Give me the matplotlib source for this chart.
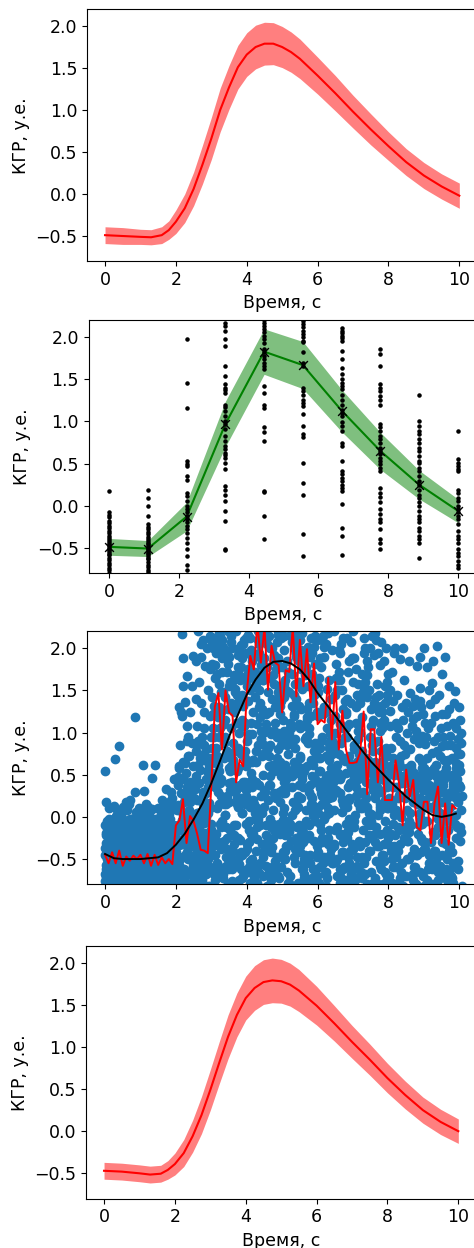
import numpy as np
import matplotlib
matplotlib.use("Agg")
import matplotlib.pyplot as plt

plt.rcParams["font.size"] = 12.5

XLABEL = "Время, с"
YLABEL = "КГР, у.е."

# ---------- panel 1 / 4: smooth mean with band ----------
t_a = [0, 0.5, 1.0, 1.3, 1.6, 1.8, 2.0, 2.25, 2.5, 2.75, 3.0, 3.25, 3.5, 3.75, 4.0,
       4.25, 4.5, 4.75, 5.0, 5.25, 5.5, 6.0, 6.5, 7.0, 7.5, 8.0, 8.5, 9.0, 9.5, 10.0]
mean_a = [-0.49, -0.50, -0.51, -0.515, -0.49, -0.43, -0.33, -0.17, 0.06, 0.35, 0.66,
          1.0, 1.27, 1.51, 1.66, 1.75, 1.79, 1.79, 1.75, 1.69, 1.61, 1.41, 1.2, 0.98,
          0.77, 0.57, 0.38, 0.22, 0.09, -0.02]
half_a = [0.10, 0.10, 0.09, 0.09, 0.10, 0.11, 0.14, 0.17, 0.20, 0.23, 0.25, 0.26, 0.26,
          0.26, 0.26, 0.26, 0.255, 0.25, 0.245, 0.24, 0.235, 0.22, 0.21, 0.195, 0.185,
          0.17, 0.16, 0.155, 0.15, 0.15]

mean_d = [-0.47, -0.48, -0.50, -0.515, -0.505, -0.46, -0.39, -0.26, -0.06, 0.19, 0.49,
          0.81, 1.12, 1.38, 1.58, 1.70, 1.77, 1.79, 1.78, 1.74, 1.67, 1.49, 1.28, 1.06,
          0.85, 0.63, 0.43, 0.25, 0.11, 0.0]
half_d = [0.10, 0.10, 0.10, 0.10, 0.10, 0.11, 0.13, 0.16, 0.19, 0.22, 0.24, 0.25, 0.26,
          0.26, 0.26, 0.265, 0.265, 0.265, 0.26, 0.255, 0.25, 0.23, 0.21, 0.195, 0.185,
          0.175, 0.165, 0.155, 0.15, 0.145]

# ---------- panel 2: grouped measurements ----------
t_b = [0.0, 1.111, 2.222, 3.333, 4.444, 5.556, 6.667, 7.778, 8.889, 10.0]
mean_b = [-0.49, -0.51, -0.13, 0.97, 1.83, 1.67, 1.13, 0.65, 0.25, -0.06]
half_b = [0.10, 0.095, 0.17, 0.27, 0.27, 0.28, 0.25, 0.22, 0.17, 0.14]
obs_b = [
    [0.17, -0.08, -0.11, -0.14, -0.18, -0.21, -0.24, -0.27, -0.3, -0.33, -0.36, -0.38,
     -0.41, -0.43, -0.45, -0.47, -0.49, -0.51, -0.53, -0.55, -0.57, -0.59, -0.62, -0.65,
     -0.68, -0.71, -0.74, -0.77, -0.8],
    [0.19, 0.09, 0.0, -0.12, -0.22, -0.25, -0.28, -0.31, -0.34, -0.37, -0.4, -0.42,
     -0.44, -0.46, -0.48, -0.5, -0.52, -0.54, -0.56, -0.58, -0.6, -0.62, -0.64, -0.67,
     -0.7, -0.73, -0.76, -0.79],
    [1.98, 1.46, 1.16, 0.53, 0.5, 0.47, 0.35, 0.31, 0.15, 0.11, 0.06, 0.0, -0.04, -0.08,
     -0.12, -0.16, -0.2, -0.24, -0.28, -0.32, -0.38, -0.44, -0.52, -0.6, -0.7, -0.76],
    [2.17, 2.13, 2.08, 1.98, 1.9, 1.66, 1.54, 1.44, 1.4, 1.37, 1.34, 1.2, 1.17, 1.12,
     1.07, 1.0, 0.97, 0.91, 0.83, 0.77, 0.71, 0.67, 0.63, 0.6, 0.57, 0.51, 0.43, 0.23,
     0.19, 0.13, 0.06, -0.06, -0.18, -0.52, -0.53],
    [2.2, 2.17, 2.13, 2.1, 2.06, 2.02, 1.98, 1.93, 1.86, 1.82, 1.78, 1.74, 1.7, 1.66,
     1.62, 1.42, 1.34, 1.2, 1.16, 0.93, 0.87, 0.77, 0.17, 0.16, -0.12, -0.4],
    [2.19, 2.16, 2.12, 2.08, 2.04, 2.0, 1.96, 1.94, 1.82, 1.7, 1.66, 1.4, 1.36, 1.32,
     1.26, 1.22, 1.18, 1.09, 0.95, 0.85, 0.81, 0.51, 0.27, 0.13, -0.34, -0.6],
    [2.11, 2.08, 2.05, 2.02, 1.99, 1.96, 1.84, 1.74, 1.64, 1.56, 1.5, 1.46, 1.42, 1.38,
     1.32, 1.26, 1.2, 1.14, 1.1, 1.06, 0.99, 0.95, 0.89, 0.75, 0.71, 0.53, 0.41, 0.37,
     0.33, 0.29, 0.25, 0.21, 0.17, 0.02, -0.26, -0.36, -0.59],
    [1.86, 1.8, 1.66, 1.44, 1.4, 1.36, 1.3, 1.26, 1.2, 0.97, 0.93, 0.89, 0.83, 0.79, 0.75,
     0.69, 0.65, 0.61, 0.57, 0.53, 0.49, 0.45, 0.41, 0.21, 0.15, 0.1, 0.04, -0.04, -0.1,
     -0.16, -0.2, -0.28, -0.4, -0.44, -0.52],
    [1.32, 1.01, 0.95, 0.89, 0.85, 0.79, 0.75, 0.69, 0.65, 0.59, 0.53, 0.51, 0.45, 0.41,
     0.35, 0.29, 0.25, 0.19, 0.13, 0.09, 0.04, 0.0, -0.06, -0.12, -0.16, -0.2, -0.26,
     -0.3, -0.36, -0.4, -0.44, -0.62],
    [0.89, 0.55, 0.51, 0.47, 0.43, 0.41, 0.19, 0.15, 0.09, 0.06, 0.0, -0.04, -0.08,
     -0.12, -0.16, -0.22, -0.3, -0.36, -0.4, -0.44, -0.52, -0.56, -0.6, -0.66, -0.7,
     -0.74],
]

# ---------- panel 3: raw samples, noisy trace, smooth fit ----------
# raw samples before the rise (t < 2); two value sets share the same times
base_t = [
    0.02, 0.23, 0.41, 0.63, 0.84, 1.03, 1.22, 1.45, 1.62, 1.83,
    0.09, 0.28, 0.49, 0.66, 0.88, 1.09, 1.27, 1.49, 1.68, 1.91,
    0.05, 0.19, 0.37, 0.58, 0.79, 0.97, 1.18, 1.38, 1.57, 1.79,
    0.13, 0.32, 0.52, 0.71, 0.93, 1.13, 1.33, 1.52, 1.73, 1.95,
    0.00, 0.16, 0.35, 0.55, 0.74, 0.95, 1.15, 1.35, 1.55, 1.76,
    0.11, 0.30, 0.47, 0.68, 0.90, 1.06, 1.29, 1.47, 1.69, 1.87,
    0.07, 0.25, 0.44, 0.61, 0.82, 1.01, 1.20, 1.41, 1.60, 1.81,
    0.15, 0.34, 0.54, 0.73, 0.95, 1.14, 1.36, 1.54, 1.75, 1.97,
    0.04, 0.21, 0.39, 0.60, 0.77, 0.99, 1.17, 1.39, 1.58, 1.78,
    0.17, 0.36, 0.57, 0.76, 0.97, 1.16, 1.37, 1.56, 1.77, 1.99,
    0.01, 0.20, 0.42, 0.62, 0.81, 1.02, 1.21, 1.42, 1.63, 1.84,
    0.10, 0.27, 0.46, 0.65, 0.86, 1.07, 1.25, 1.46, 1.66, 1.86,
    0.06, 0.24, 0.43, 0.64, 0.83, 1.04, 1.24, 1.43, 1.64, 1.85,
    0.14, 0.33, 0.51, 0.72, 0.91, 1.11, 1.31, 1.51, 1.71, 1.93,
    0.03, 0.22, 0.40, 0.59, 0.80, 1.00, 1.19, 1.40, 1.59, 1.80,
    0.12, 0.31, 0.50, 0.69, 0.89, 1.10, 1.30, 1.50, 1.70, 1.90,
    0.08, 0.26, 0.45, 0.67, 0.85, 1.05, 1.26, 1.44, 1.65, 1.88,
    0.16, 0.35, 0.53, 0.74, 0.94, 1.12, 1.34, 1.53, 1.74, 1.94,
    0.00, 0.18, 0.38, 0.56, 0.78, 0.96, 1.16, 1.36, 1.56, 1.77,
    0.12, 0.29, 0.48, 0.70, 0.87, 1.08, 1.28, 1.48, 1.67, 1.89,
    0.05, 0.24, 0.44, 0.62, 0.83, 1.03, 1.23, 1.42, 1.61, 1.82,
    0.18, 0.37, 0.55, 0.75, 0.96, 1.15, 1.35, 1.55, 1.76, 1.98,
]
base_v = [
    -0.31, -0.72, 0.05, -0.48, -0.15, -0.83, -0.56, -0.02, -0.39, -0.67,
    -0.6, -0.09, -0.44, -0.8, -0.25, 0.1, -0.52, -0.7, -0.18, -0.35,
    -0.05, -0.63, -0.28, -0.87, -0.41, -0.12, -0.75, -0.33, 0.02, -0.55,
    -0.78, -0.22, -0.5, -0.03, -0.66, -0.37, -0.84, -0.14, -0.58, -0.27,
    -0.45, -0.85, -0.11, -0.61, -0.3, -0.74, 0.07, -0.47, -0.2, -0.81,
    -0.17, -0.54, -0.76, -0.34, 0.0, -0.64, -0.23, -0.86, -0.42, -0.08,
    -0.69, -0.38, -0.01, -0.82, -0.53, -0.19, -0.62, -0.29, -0.77, 0.12,
    -0.26, -0.79, -0.46, -0.1, -0.71, -0.4, -0.88, -0.06, -0.51, -0.32,
    -0.57, -0.13, -0.68, -0.36, -0.82, -0.24, 0.04, -0.59, -0.43, -0.73,
    -0.04, -0.49, -0.21, -0.77, -0.12, -0.65, -0.36, -0.85, -0.16, -0.55,
    -0.83, -0.28, -0.6, 0.08, -0.45, -0.73, -0.07, -0.5, -0.3, -0.66,
    -0.14, -0.7, -0.37, -0.56, -0.87, -0.2, -0.42, -0.03, -0.79, -0.24,
    -0.5, -0.06, -0.81, -0.27, -0.64, -0.11, -0.55, -0.76, 0.06, -0.39,
    -0.72, -0.33, -0.16, -0.87, -0.47, -0.02, -0.68, -0.23, -0.58, -0.1,
    -0.22, -0.61, -0.84, -0.41, -0.09, -0.53, -0.29, -0.75, -0.18, 0.03,
    -0.63, 0.01, -0.34, -0.15, -0.8, -0.45, -0.69, -0.26, -0.52, -0.86,
    -0.08, -0.44, -0.74, -0.31, -0.57, -0.17, -0.85, -0.38, -0.04, -0.62,
    -0.46, -0.88, -0.13, -0.67, -0.25, -0.78, -0.32, 0.09, -0.6, -0.19,
    -0.76, -0.21, -0.51, -0.05, -0.7, -0.35, -0.12, -0.82, -0.48, -0.28,
    -0.35, -0.65, -0.01, -0.54, -0.83, -0.14, -0.59, -0.43, -0.71, 0.15,
    -0.1, -0.52, -0.29, -0.79, -0.4, -0.66, -0.02, -0.23, -0.87, -0.47,
    -0.59, -0.17, -0.84, -0.36, -0.07, -0.49, -0.74, -0.31, -0.13, 0.11,
]
base_v2 = [
    -0.62, -0.18, -0.8, -0.35, -0.52, -0.08, -0.7, -0.27, -0.45, -0.86,
    -0.22, -0.5, -0.04, -0.66, -0.38, -0.84, -0.14, -0.58, -0.3, -0.74,
    -0.76, -0.33, -0.6, -0.12, -0.85, -0.46, -0.26, -0.68, -0.41, -0.05,
    -0.4, -0.72, -0.2, -0.54, -0.07, -0.63, -0.32, -0.8, -0.16, -0.48,
    -0.1, -0.57, -0.83, -0.24, -0.67, -0.36, -0.52, -0.02, -0.78, -0.3,
    -0.55, -0.06, -0.42, -0.78, -0.2, -0.87, -0.6, -0.38, -0.11, -0.7,
    -0.28, -0.82, -0.5, -0.16, -0.74, -0.06, -0.44, -0.56, -0.34, -0.9,
    -0.66, -0.4, -0.12, -0.88, -0.32, -0.58, -0.72, -0.2, -0.82, -0.44,
    -0.19, -0.69, -0.37, -0.52, -0.03, -0.79, -0.14, -0.48, -0.62, -0.08,
    -0.84, -0.26, -0.61, -0.09, -0.46, -0.32, -0.75, -0.55, -0.29, -0.68,
    -0.37, -0.12, -0.77, -0.62, -0.2, -0.44, -0.86, -0.15, -0.57, -0.03,
    -0.6, -0.48, -0.25, -0.08, -0.7, -0.56, -0.1, -0.66, -0.34, -0.8,
    -0.13, -0.78, -0.54, -0.4, -0.86, -0.28, -0.63, -0.35, -0.72, -0.47,
    -0.45, -0.24, -0.9, -0.58, -0.15, -0.74, -0.38, -0.04, -0.27, -0.65,
    -0.71, -0.42, -0.07, -0.28, -0.66, -0.13, -0.8, -0.51, -0.6, -0.22,
    -0.03, -0.64, -0.47, -0.72, -0.38, -0.55, -0.2, -0.84, -0.1, -0.36,
    -0.5, -0.3, -0.68, -0.1, -0.84, -0.26, -0.53, -0.18, -0.69, -0.77,
    -0.25, -0.56, -0.32, -0.83, -0.06, -0.62, -0.45, -0.7, -0.22, -0.4,
    -0.68, -0.09, -0.78, -0.43, -0.3, -0.87, -0.17, -0.58, -0.05, -0.52,
    -0.15, -0.82, -0.55, -0.23, -0.62, -0.04, -0.35, -0.76, -0.48, -0.3,
    -0.58, -0.37, -0.14, -0.69, -0.23, -0.81, -0.43, -0.06, -0.64, -0.2,
    -0.32, -0.73, -0.46, -0.02, -0.77, -0.38, -0.25, -0.52, -0.83, -0.6,
]
base_out = [
    (0.0, 0.55), (0.03, 0.18), (0.26, 0.13), (0.29, 0.69), (0.4, 0.84), (0.59, 0.18),
    (0.71, 0.2), (0.86, 0.3), (0.86, 1.19), (0.87, 0.06), (1.06, 0.62), (1.42, 0.62),
    (1.32, 0.46), (1.09, 0.31), (1.32, 0.09), (1.72, 0.33), (1.86, 0.29), (1.95, 0.45),
    (1.6, 0.2), (1.8, 0.18), (0.5, 0.12), (1.15, 0.15), (0.12, 0.1), (0.35, 0.08),
    (0.62, 0.12), (0.68, 0.15), (0.95, 0.1), (1.2, 0.12), (1.25, 0.05), (1.5, 0.1),
    (1.68, 0.16), (1.9, 0.22), (0.45, 0.05), (1.0, 0.04), (1.78, 0.08), (1.98, 0.12),
]

# raw samples, rising part (2 <= t < 3)
rise_t = [
    2.01, 2.12, 2.21, 2.33, 2.42, 2.51, 2.62, 2.71, 2.83, 2.92,
    2.05, 2.16, 2.26, 2.37, 2.47, 2.56, 2.66, 2.77, 2.87, 2.97,
    2.03, 2.14, 2.24, 2.35, 2.44, 2.54, 2.64, 2.74, 2.85, 2.95,
    2.08, 2.18, 2.29, 2.39, 2.49, 2.59, 2.69, 2.79, 2.89, 2.99,
    2.00, 2.10, 2.20, 2.31, 2.40, 2.50, 2.60, 2.70, 2.80, 2.90,
    2.06, 2.17, 2.27, 2.36, 2.46, 2.57, 2.67, 2.76, 2.86, 2.96,
    2.02, 2.13, 2.23, 2.34, 2.45, 2.53, 2.63, 2.73, 2.84, 2.94,
    2.09, 2.19, 2.28, 2.38, 2.48, 2.58, 2.68, 2.78, 2.88, 2.98,
]
rise_v = [
    -0.42, 0.12, -0.71, -0.18, 0.25, -0.55, -0.05, -0.83, -0.3, 0.05,
    -0.1, -0.64, 0.2, -0.36, -0.8, -0.02, -0.48, 0.15, -0.67, -0.22,
    0.08, -0.27, -0.85, -0.5, 0.0, -0.74, -0.13, -0.4, 0.28, -0.6,
    -0.78, -0.04, -0.33, 0.18, -0.58, -0.2, -0.88, 0.1, -0.45, -0.15,
    -0.25, -0.52, 0.02, -0.69, -0.12, 0.22, -0.38, -0.75, -0.07, -0.82,
    0.14, -0.8, -0.46, -0.08, -0.63, -0.3, 0.06, -0.56, -0.19, -0.39,
    -0.6, -0.16, 0.26, -0.86, -0.35, -0.09, -0.7, -0.24, -0.53, 0.16,
    -0.33, -0.72, -0.2, 0.03, -0.77, -0.44, -0.27, -0.65, 0.11, -0.87,
]
rise_v2 = [
    -0.5, -0.12, 0.65, -0.8, 0.35, -0.28, 0.9, -0.6, 0.15, -0.4,
    0.45, -0.7, -0.2, 0.08, -0.55, 0.78, -0.35, -0.05, 0.55, -0.82,
    -0.3, 0.28, -0.62, 0.95, -0.15, -0.45, 0.4, -0.75, 0.0, 0.7,
    0.12, -0.48, 0.52, -0.25, -0.85, 0.2, -0.65, 0.85, -0.38, -0.08,
    -0.72, 0.6, -0.02, -0.42, 0.3, -0.58, 0.05, -0.18, 0.75, -0.5,
    0.38, -0.32, -0.78, 0.72, -0.1, 0.48, -0.52, 0.25, -0.68, 0.1,
    -0.15, -0.6, 0.18, -0.36, 0.88, -0.8, 0.62, -0.46, -0.22, 0.42,
    0.58, -0.05, -0.44, 0.32, -0.66, -0.25, 0.02, 0.68, -0.56, -0.3,
]
rise_up = [
    (2.16, 2.17), (2.21, 1.89), (2.49, 1.91), (2.3, 1.67), (2.21, 1.55), (2.26, 1.36),
    (2.16, 1.2), (2.4, 1.24), (2.3, 1.08), (2.59, 1.08), (2.3, 0.9), (2.63, 0.86),
    (2.26, 0.64), (2.49, 0.6), (2.68, 0.56), (2.21, 0.45), (2.4, 0.41), (2.6, 0.42),
    (2.3, 0.35), (2.54, 0.33), (2.77, 0.3), (2.77, 2.1), (2.96, 2.15), (2.82, 1.79),
    (2.05, 0.47), (2.1, 1.3), (2.15, 1.25), (2.45, 1.55), (2.12, 0.85), (2.35, 0.72),
    (2.65, 1.6), (2.72, 1.35), (2.8, 1.05), (2.85, 0.8), (2.9, 1.5), (2.93, 0.62),
    (2.7, 1.9), (2.88, 2.0), (2.97, 1.2), (2.75, 0.95), (2.62, 2.2), (2.95, 1.75),
    (2.84, 0.45), (2.58, 1.4), (2.67, 0.7), (2.78, 1.25), (2.99, 0.95), (2.9, 0.35),
    (2.56, 1.85), (2.7, 2.05),
]

# raw samples around the peak (3 <= t < 6)
peak_t = [
    3.02, 3.31, 3.62, 3.93, 4.20, 4.51, 4.83, 5.10, 5.42, 5.71,
    3.15, 3.44, 3.75, 4.05, 4.36, 4.64, 4.95, 5.26, 5.55, 5.86,
    3.08, 3.38, 3.67, 3.98, 4.27, 4.57, 4.88, 5.17, 5.48, 5.79,
    3.22, 3.52, 3.81, 4.12, 4.41, 4.72, 5.01, 5.33, 5.62, 5.93,
    3.00, 3.28, 3.59, 3.88, 4.18, 4.47, 4.78, 5.07, 5.38, 5.67,
    3.18, 3.48, 3.77, 4.08, 4.38, 4.68, 4.98, 5.28, 5.58, 5.88,
    3.11, 3.41, 3.71, 4.01, 4.31, 4.61, 4.91, 5.21, 5.51, 5.81,
    3.26, 3.55, 3.86, 4.15, 4.45, 4.76, 5.05, 5.36, 5.65, 5.96,
    3.05, 3.34, 3.64, 3.95, 4.24, 4.54, 4.85, 5.14, 5.45, 5.74,
    3.20, 3.50, 3.79, 4.10, 4.40, 4.70, 4.99, 5.30, 5.60, 5.90,
    3.13, 3.43, 3.73, 4.03, 4.33, 4.63, 4.93, 5.23, 5.53, 5.83,
    3.28, 3.57, 3.88, 4.17, 4.48, 4.78, 5.08, 5.39, 5.68, 5.98,
    3.04, 3.35, 3.65, 3.96, 4.25, 4.56, 4.86, 5.15, 5.46, 5.76,
    3.17, 3.46, 3.76, 4.06, 4.37, 4.66, 4.96, 5.27, 5.57, 5.87,
    3.09, 3.39, 3.69, 3.99, 4.29, 4.59, 4.89, 5.19, 5.49, 5.78,
    3.23, 3.53, 3.83, 4.13, 4.43, 4.73, 5.03, 5.34, 5.63, 5.94,
    3.01, 3.30, 3.60, 3.90, 4.21, 4.50, 4.80, 5.11, 5.40, 5.70,
    3.19, 3.49, 3.78, 4.09, 4.39, 4.69, 4.97, 5.29, 5.59, 5.89,
    3.12, 3.42, 3.72, 4.02, 4.32, 4.62, 4.92, 5.22, 5.52, 5.82,
    3.27, 3.56, 3.87, 4.16, 4.47, 4.77, 5.06, 5.37, 5.66, 5.97,
    3.06, 3.36, 3.66, 3.97, 4.26, 4.55, 4.87, 5.16, 5.47, 5.77,
    3.21, 3.51, 3.80, 4.11, 4.42, 4.71, 5.02, 5.32, 5.61, 5.92,
    3.14, 3.45, 3.74, 4.04, 4.34, 4.65, 4.94, 5.24, 5.54, 5.84,
    3.29, 3.58, 3.89, 4.19, 4.49, 4.79, 5.09, 5.40, 5.69, 5.99,
    3.03, 3.33, 3.63, 3.94, 4.23, 4.53, 4.84, 5.13, 5.44, 5.73,
    3.16, 3.47, 3.77, 4.07, 4.35, 4.67, 4.97, 5.25, 5.56, 5.85,
    3.10, 3.40, 3.70, 4.00, 4.30, 4.60, 4.90, 5.20, 5.50, 5.80,
    3.24, 3.54, 3.84, 4.14, 4.44, 4.74, 5.04, 5.35, 5.64, 5.95,
    3.07, 3.37, 3.68, 3.97, 4.28, 4.58, 4.87, 5.18, 5.47, 5.77,
    3.25, 3.55, 3.85, 4.14, 4.46, 4.75, 5.05, 5.33, 5.64, 5.91,
]
peak_v = [
    1.42, -0.35, 0.88, 2.1, -0.71, 0.3, 1.75, -0.12, 0.61, 1.18,
    -0.55, 1.95, 0.12, -0.83, 1.3, 0.72, -0.2, 2.22, 0.45, 1.6,
    0.95, -0.6, 1.52, 0.2, -0.4, 2.05, 1.0, -0.78, 1.85, 0.38,
    2.18, 0.55, -0.27, 1.12, 1.88, -0.66, 0.05, 1.45, -0.5, 0.8,
    -0.15, 1.25, 2.0, -0.45, 0.68, 1.62, -0.85, 0.28, 2.15, -0.05,
    0.62, -0.8, 0.35, 1.7, -0.1, 0.98, 2.12, 0.48, -0.62, 1.35,
    1.8, 0.15, -0.52, 0.9, 2.2, -0.3, 1.4, -0.7, 1.05, 0.25,
    -0.38, 2.08, 1.15, -0.18, 0.5, 1.92, 0.1, 1.58, -0.87, 0.75,
    1.05, -0.68, 1.68, 0.42, -0.02, 1.22, -0.48, 0.85, 1.98, -0.25,
    0.3, 1.55, -0.75, 2.12, 0.92, -0.36, 1.78, 0.18, 0.58, 2.02,
    -0.85, 0.78, 0.22, 1.38, -0.58, 2.15, 0.65, -0.08, 1.28, -0.72,
    1.98, -0.22, 1.88, -0.64, 0.32, 1.02, -0.4, 1.9, 0.08, 1.5,
    0.45, 1.1, -0.1, 0.7, 1.62, -0.82, 2.08, 0.55, -0.32, 0.98,
    -0.62, 2.2, 0.58, -0.05, 1.18, 0.38, -0.6, 1.32, 2.18, 0.02,
    1.65, 0.02, 1.3, 1.95, -0.26, 0.82, 1.48, -0.15, 0.7, -0.45,
    0.15, -0.45, 2.04, 0.52, -0.84, 1.68, 0.28, 2.0, -0.55, 1.82,
    -0.3, 1.72, 0.68, -0.7, 1.9, 0.12, 1.12, -0.35, 1.4, 0.6,
    2.05, 0.4, -0.56, 1.5, 0.25, -0.12, 0.92, 1.7, 0.35, -0.8,
    0.82, -0.12, 1.45, -0.38, 2.1, 0.6, -0.72, 1.05, -0.2, 2.12,
    -0.7, 1.35, 0.05, 0.98, -0.48, 1.85, 0.42, -0.55, 0.95, 1.25,
    1.22, 0.7, -0.82, 0.32, 1.58, -0.22, 2.16, 0.75, 1.6, -0.1,
    0.55, 1.9, 1.1, -0.58, 0.05, 1.4, -0.04, 1.22, -0.68, 0.45,
    -0.2, 0.25, 1.78, 2.16, -0.66, 0.48, 1.32, -0.85, 0.22, 1.7,
    1.88, -0.76, 0.42, 1.25, 0.85, -0.52, 0.62, 1.95, 1.15, -0.35,
    -0.45, 1.48, -0.32, 0.15, 1.72, 1.1, -0.15, 0.35, 1.88, 0.88,
    0.72, -0.5, 2.0, -0.15, 0.38, 2.02, 0.85, -0.28, 0.5, 1.95,
    2.12, 0.95, 0.32, 1.62, -0.78, 0.2, 1.55, 1.0, -0.42, 0.15,
    -0.08, 1.6, -0.62, 0.65, 1.28, -0.7, 1.98, 0.08, 1.75, -0.62,
    1.32, -0.28, 0.78, -0.88, 0.1, 1.78, 0.58, 1.48, -0.1, 1.05,
    0.4, 2.15, -0.42, 1.85, 1.0, 0.55, -0.5, 2.2, 0.92, -0.28,
]
peak_v2 = [
    0.52, 1.95, -0.4, 1.08, -0.78, 2.18, 0.22, 1.5, -0.12, 0.9,
    1.7, -0.25, 0.82, -0.6, 2.05, 0.38, 1.22, -0.82, 1.85, 0.08,
    -0.68, 1.15, 0.3, 2.12, 0.65, -0.35, 1.88, -0.05, 1.32, -0.55,
    0.95, -0.15, 1.62, -0.88, 1.02, 2.0, -0.42, 0.58, -0.72, 2.15,
    2.1, 0.45, -0.62, 1.45, -0.2, 0.75, 1.58, -0.5, 0.18, 1.78,
    -0.3, 1.82, 1.0, 0.12, 1.35, -0.75, 0.48, 2.08, -0.18, 0.62,
    0.35, -0.58, 2.2, -0.32, 0.85, 1.65, -0.08, 1.12, 0.72, -0.85,
    1.48, 0.7, 0.05, 1.9, -0.7, 0.28, 2.15, -0.38, 1.68, 0.42,
    -0.82, 2.02, -0.22, 0.78, 1.42, -0.1, 0.95, -0.65, 0.25, 1.55,
    1.18, 0.18, 1.38, -0.52, 1.8, -0.6, 0.32, 2.18, -0.28, 0.78,
    0.65, -0.38, 0.55, 1.75, -0.02, 1.25, -0.85, 0.88, 1.98, 0.15,
    -0.12, 1.6, -0.72, 0.2, 2.12, 0.55, 1.62, -0.25, 1.08, -0.48,
    2.0, 0.88, 1.25, -0.42, 0.42, -0.3, 0.7, 1.85, -0.78, 1.35,
    0.1, -0.8, 1.92, 0.98, -0.55, 2.0, -0.18, 0.35, 1.52, -0.62,
    -0.45, 1.42, -0.1, 0.6, 1.1, -0.68, 2.2, 0.95, -0.35, 1.9,
    1.58, 0.32, 0.75, -0.2, 1.7, 0.08, -0.45, 1.2, 0.55, -0.05,
    0.82, 2.1, -0.52, 1.32, 0.15, 1.88, -0.62, 0.45, 2.05, -0.75,
    -0.58, 0.58, 1.68, -0.78, 0.92, -0.42, 1.38, 0.02, -0.3, 1.45,
    1.95, -0.48, 0.15, 1.55, -0.65, 1.02, 0.3, -0.12, 1.75, 0.68,
    0.25, 1.05, -0.88, 0.45, 2.18, -0.15, 1.58, 0.82, -0.55, 2.1,
    -0.35, 0.15, 1.48, -0.08, 0.78, 2.08, -0.7, 1.72, 0.38, -0.22,
    1.3, -0.62, 0.38, 1.98, -0.32, 0.62, 1.15, -0.48, 1.92, 0.88,
    0.72, 1.72, -0.25, -0.65, 1.5, -0.02, 0.18, 2.15, -0.82, 0.48,
    -0.05, 0.42, 2.05, 0.68, -0.4, 1.3, -0.22, 0.52, 1.28, -0.7,
    1.82, -0.72, 0.62, 1.12, 0.05, -0.58, 1.82, -0.35, 0.12, 2.02,
    0.48, 1.28, -0.48, -0.3, 1.95, 0.85, -0.1, 1.05, -0.62, 0.22,
    -0.75, 0.02, 1.12, 1.68, -0.12, 1.48, 0.58, -0.78, 2.1, 1.2,
    1.05, -0.42, 1.78, 0.35, 0.72, -0.25, 1.02, 0.92, -0.08, 1.62,
    -0.2, 1.9, -0.58, 0.25, -0.82, 1.65, 0.8, -0.18, 1.1, 0.3,
    2.15, 0.6, 0.22, -0.5, 1.62, -0.08, 1.42, 0.65, -0.45, 1.52,
]

# raw samples, decay, lower part (t >= 6, v < 0.6)
tail_low_t = [
    6.02, 6.43, 6.85, 7.25, 7.66, 8.07, 8.48, 8.90, 9.30, 9.71,
    6.20, 6.62, 7.03, 7.44, 7.85, 8.26, 8.66, 9.08, 9.49, 9.90,
    6.11, 6.52, 6.93, 7.34, 7.75, 8.16, 8.57, 8.98, 9.39, 9.80,
    6.30, 6.71, 7.12, 7.53, 7.94, 8.35, 8.76, 9.17, 9.58, 9.99,
    6.06, 6.47, 6.89, 7.29, 7.70, 8.11, 8.53, 8.94, 9.35, 9.76,
    6.25, 6.66, 7.07, 7.48, 7.89, 8.30, 8.71, 9.12, 9.53, 9.94,
    6.15, 6.56, 6.97, 7.38, 7.79, 8.20, 8.61, 9.02, 9.43, 9.85,
    6.35, 6.76, 7.17, 7.58, 7.99, 8.40, 8.81, 9.22, 9.63, 10.04,
    6.00, 6.40, 6.82, 7.22, 7.63, 8.04, 8.45, 8.86, 9.27, 9.68,
    6.23, 6.64, 7.05, 7.46, 7.87, 8.28, 8.69, 9.10, 9.51, 9.92,
    6.09, 6.50, 6.91, 7.32, 7.73, 8.14, 8.55, 8.96, 9.37, 9.78,
    6.33, 6.74, 7.15, 7.56, 7.97, 8.38, 8.79, 9.20, 9.61, 10.02,
    6.04, 6.45, 6.86, 7.27, 7.68, 8.09, 8.50, 8.91, 9.32, 9.73,
    6.27, 6.68, 7.09, 7.50, 7.91, 8.32, 8.73, 9.14, 9.55, 9.96,
    6.13, 6.54, 6.95, 7.36, 7.77, 8.18, 8.59, 9.00, 9.41, 9.83,
    6.38, 6.79, 7.20, 7.61, 8.02, 8.43, 8.84, 9.25, 9.66, 10.07,
    6.07, 6.48, 6.88, 7.30, 7.71, 8.12, 8.52, 8.93, 9.34, 9.75,
    6.22, 6.63, 7.04, 7.45, 7.86, 8.27, 8.68, 9.09, 9.50, 9.91,
    6.17, 6.58, 6.99, 7.40, 7.81, 8.22, 8.63, 9.04, 9.45, 9.87,
    6.32, 6.73, 7.14, 7.55, 7.96, 8.37, 8.78, 9.19, 9.60, 10.01,
    6.01, 6.42, 6.84, 7.24, 7.65, 8.06, 8.47, 8.88, 9.29, 9.70,
    6.28, 6.69, 7.10, 7.51, 7.92, 8.33, 8.74, 9.15, 9.56, 9.97,
    6.12, 6.53, 6.94, 7.35, 7.76, 8.17, 8.58, 8.99, 9.40, 9.81,
]
tail_low_v = [
    -0.3, 0.42, -0.75, 0.1, -0.52, 0.55, -0.15, -0.84, 0.28, -0.4,
    0.2, -0.62, 0.48, -0.22, -0.8, 0.05, -0.45, 0.35, -0.68, 0.58,
    -0.58, 0.32, -0.1, -0.86, 0.15, -0.35, 0.52, -0.7, -0.02, 0.25,
    0.5, -0.42, -0.72, 0.38, -0.18, 0.0, -0.6, 0.12, 0.45, -0.85,
    -0.08, 0.58, 0.22, -0.5, 0.44, -0.78, 0.08, -0.28, -0.55, 0.3,
    -0.82, -0.2, 0.35, 0.55, -0.65, 0.26, -0.38, 0.48, 0.02, -0.12,
    0.4, -0.7, -0.32, -0.05, 0.3, -0.48, -0.88, 0.2, 0.5, -0.58,
    -0.45, 0.12, 0.56, -0.78, -0.25, 0.42, 0.15, -0.62, -0.32, 0.08,
    0.05, -0.55, -0.18, 0.28, -0.72, 0.6, -0.25, 0.38, -0.8, -0.15,
    -0.65, 0.45, 0.02, -0.4, 0.52, -0.12, 0.32, -0.86, 0.18, 0.44,
    0.28, -0.85, 0.4, 0.18, -0.35, -0.6, 0.55, -0.08, -0.48, -0.72,
    -0.15, 0.2, -0.62, 0.5, 0.1, -0.88, -0.42, 0.25, 0.58, -0.28,
    0.55, -0.32, -0.48, -0.15, 0.36, 0.15, -0.7, 0.5, -0.22, 0.12,
    -0.72, 0.06, 0.25, -0.65, -0.05, 0.48, 0.3, -0.45, 0.38, -0.52,
    0.15, -0.5, -0.85, 0.42, -0.58, -0.22, -0.05, 0.58, -0.65, 0.35,
    -0.38, 0.52, 0.1, -0.3, 0.22, -0.7, 0.45, -0.18, 0.04, -0.82,
    0.34, -0.15, -0.55, 0.58, -0.82, 0.35, -0.28, -0.02, 0.48, -0.35,
    -0.52, -0.78, 0.46, -0.1, 0.5, -0.4, 0.18, -0.75, -0.3, 0.22,
    -0.02, 0.3, -0.38, -0.8, -0.45, 0.08, 0.58, 0.4, -0.58, -0.08,
    0.46, -0.62, 0.16, 0.32, -0.15, -0.55, -0.8, -0.3, 0.28, 0.54,
    -0.85, 0.24, -0.25, -0.48, 0.58, 0.2, -0.12, 0.05, -0.4, -0.65,
    0.1, -0.42, 0.6, 0.04, -0.68, -0.32, 0.38, -0.55, 0.52, 0.18,
    -0.25, 0.5, -0.68, 0.26, 0.12, 0.55, -0.5, 0.15, -0.12, 0.4,
]
tail_low_v2 = [
    0.12, -0.55, 0.35, -0.72, 0.5, -0.2, -0.85, 0.22, -0.4, 0.0,
    -0.68, 0.28, -0.12, 0.55, -0.45, -0.78, 0.4, -0.05, 0.18, -0.6,
    0.42, -0.88, 0.6, -0.3, 0.08, 0.5, -0.18, 0.32, -0.75, -0.42,
    -0.25, 0.15, -0.58, -0.1, 0.45, -0.65, 0.25, -0.82, -0.2, 0.38,
    0.55, -0.35, -0.02, 0.3, -0.8, 0.1, -0.5, 0.58, 0.22, -0.7,
    0.02, 0.48, -0.72, -0.4, 0.2, -0.15, 0.52, -0.62, -0.3, 0.45,
    -0.55, -0.12, 0.42, 0.22, -0.62, 0.35, 0.05, -0.38, -0.85, 0.28,
    0.3, -0.75, -0.28, 0.45, 0.1, -0.82, -0.45, 0.55, 0.2, -0.18,
    -0.42, 0.38, 0.12, -0.65, 0.25, -0.35, 0.48, -0.1, 0.35, -0.78,
    0.48, -0.22, -0.82, 0.05, -0.52, 0.58, -0.68, 0.12, -0.45, 0.02,
    -0.15, 0.55, -0.4, -0.85, 0.32, -0.08, -0.28, 0.42, 0.08, 0.5,
    0.22, -0.6, 0.3, -0.22, -0.75, 0.4, 0.18, -0.55, -0.62, 0.35,
    -0.78, 0.08, -0.18, 0.58, -0.35, -0.5, 0.4, -0.25, 0.52, -0.05,
    0.35, -0.45, 0.52, -0.05, 0.18, -0.72, -0.6, 0.28, -0.15, 0.58,
    -0.3, 0.45, -0.62, -0.48, 0.55, 0.05, 0.3, -0.82, 0.42, -0.55,
    0.58, -0.08, -0.35, 0.22, -0.7, 0.48, -0.2, 0.1, -0.5, 0.25,
    -0.6, 0.3, 0.2, -0.55, 0.02, -0.85, 0.58, -0.42, 0.15, 0.48,
    0.15, -0.7, -0.05, 0.4, -0.32, 0.22, -0.75, 0.5, 0.35, -0.25,
    -0.48, 0.52, -0.82, 0.12, 0.6, -0.6, -0.1, -0.3, 0.05, 0.32,
    0.05, -0.3, 0.45, -0.78, 0.35, 0.25, -0.45, 0.55, -0.72, -0.12,
    0.4, -0.88, -0.2, 0.5, -0.12, -0.4, 0.22, -0.65, 0.58, 0.1,
    -0.32, 0.2, -0.48, -0.25, 0.42, 0.6, -0.82, 0.38, -0.05, -0.62,
    0.25, -0.52, 0.55, -0.68, -0.2, 0.02, 0.45, -0.38, 0.28, -0.78,
]

# raw samples, decay, upper part (6 <= t < 8, v >= 0.6)
tail_up_t = [
    6.02, 6.23, 6.41, 6.62, 6.83, 7.02, 7.21, 7.43, 7.61, 7.82,
    6.10, 6.31, 6.50, 6.71, 6.90, 7.11, 7.30, 7.52, 7.71, 7.90,
    6.06, 6.27, 6.46, 6.67, 6.86, 7.07, 7.26, 7.47, 7.66, 7.86,
    6.15, 6.35, 6.55, 6.76, 6.95, 7.15, 7.35, 7.56, 7.75, 7.95,
    6.00, 6.19, 6.38, 6.59, 6.79, 6.99, 7.18, 7.39, 7.58, 7.79,
    6.12, 6.33, 6.52, 6.73, 6.93, 7.13, 7.32, 7.54, 7.73, 7.93,
    6.04, 6.25, 6.44, 6.64, 6.84, 7.04, 7.24, 7.45, 7.64, 7.84,
    6.17, 6.37, 6.57, 6.78, 6.97, 7.17, 7.37, 7.58, 7.77, 7.97,
    6.08, 6.29, 6.48, 6.69, 6.88, 7.09, 7.28, 7.49, 7.68, 7.88,
    6.19, 6.40, 6.60, 6.80, 7.00, 7.20, 7.40, 7.60, 7.80, 7.99,
]
tail_up_v = [
    1.2, 2.05, 0.75, 1.62, 0.95, 1.88, 1.35, 0.68, 2.18, 1.05,
    1.78, 0.82, 1.45, 2.12, 1.1, 0.65, 1.95, 1.28, 0.9, 1.55,
    0.7, 1.52, 2.2, 0.88, 1.72, 1.3, 0.78, 2.0, 1.42, 1.85,
    2.15, 1.0, 0.62, 1.38, 2.08, 0.92, 1.6, 1.15, 1.8, 0.72,
    1.48, 1.9, 1.15, 0.75, 1.25, 2.2, 1.02, 1.68, 0.62, 1.32,
    0.95, 0.68, 1.82, 1.05, 0.6, 1.58, 2.12, 0.85, 1.25, 2.0,
    1.65, 1.25, 0.88, 1.95, 1.4, 0.8, 1.18, 1.5, 2.1, 0.66,
    2.02, 1.4, 1.62, 0.66, 1.88, 1.12, 0.7, 1.92, 1.02, 1.45,
    0.82, 2.18, 1.0, 1.5, 0.72, 1.75, 1.48, 0.62, 1.58, 1.15,
    1.3, 0.9, 1.98, 1.22, 1.6, 1.0, 1.85, 1.35, 0.78, 1.7,
]
tail_up_v2 = [
    1.55, 0.72, 1.98, 1.1, 2.12, 0.85, 1.4, 1.78, 0.65, 1.25,
    0.9, 1.62, 1.2, 0.7, 1.85, 1.45, 0.62, 1.08, 1.95, 1.35,
    1.88, 1.05, 0.8, 2.05, 0.68, 1.12, 1.7, 0.95, 1.3, 0.75,
    1.22, 2.2, 1.5, 0.95, 1.35, 0.66, 2.0, 0.78, 1.12, 1.6,
    0.7, 1.3, 0.92, 1.72, 1.05, 1.88, 0.75, 1.42, 0.88, 2.08,
    2.1, 0.88, 1.65, 1.28, 0.6, 1.02, 1.55, 2.15, 1.45, 0.82,
]
# raw samples, late upper part (t >= 8, v >= 0.6)
late_up = [
    (8.18, 2.0), (8.42, 2.0), (8.33, 1.87), (9.0, 2.0), (9.36, 2.03), (8.89, 1.9),
    (8.8, 1.79), (9.5, 1.69), (9.22, 1.59), (9.88, 1.49), (8.89, 1.53), (8.61, 1.47),
    (8.04, 1.26), (8.7, 1.16), (8.98, 1.22), (9.17, 1.34), (9.64, 1.08), (9.73, 0.96),
    (9.92, 0.64), (9.03, 0.86), (9.22, 0.76), (9.5, 0.84), (8.94, 0.96), (8.33, 0.9),
    (8.04, 1.08), (8.52, 1.0), (8.66, 1.08), (8.1, 1.72), (8.25, 1.45), (8.45, 1.62),
    (8.55, 1.25), (8.75, 1.4), (9.1, 1.78), (9.3, 1.2), (9.42, 1.45), (9.6, 1.9),
    (9.7, 1.28), (9.82, 1.12), (9.95, 0.92), (10.03, 0.75), (10.05, 1.0), (9.58, 0.68),
    (9.4, 0.95), (9.12, 1.05), (8.85, 0.7), (8.62, 0.8), (8.4, 1.15), (8.2, 0.95),
    (8.12, 0.7), (8.3, 0.65), (8.48, 0.75), (8.72, 0.92), (8.95, 0.65), (9.08, 0.7),
    (9.28, 0.9), (9.45, 0.72), (9.65, 0.85), (9.78, 0.7), (9.9, 0.82), (10.0, 0.62),
    (8.15, 1.95), (8.58, 1.85), (9.25, 1.85), (9.7, 1.55), (9.98, 1.3), (8.05, 1.5),
    (8.38, 1.3), (8.8, 1.2), (9.15, 1.5), (8.08, 0.82), (8.22, 1.12), (8.36, 0.72),
    (8.5, 1.35), (8.64, 0.62), (8.78, 1.02), (8.92, 1.3), (9.05, 0.95), (9.2, 1.12),
    (9.34, 0.62), (9.48, 1.05), (9.62, 1.22), (9.76, 0.85), (9.9, 1.05), (10.04, 0.88),
    (8.28, 1.05), (8.44, 0.85), (8.68, 1.32), (8.86, 0.88), (9.02, 1.12), (9.38, 0.78),
    (9.55, 0.95), (9.68, 0.68), (9.84, 1.35), (10.02, 1.15), (8.14, 1.38), (8.9, 1.38),
    (9.3, 1.4), (9.52, 1.22), (9.96, 0.75),
]

# noisy trace, sampled every 0.1 s
trace_v = [
    -0.45, -0.55, -0.42, -0.55, -0.40, -0.58, -0.47, -0.52, -0.46, -0.50,
    -0.45, -0.55, -0.44, -0.58, -0.45, -0.57, -0.48, -0.55, -0.50, -0.56,
    -0.10, -0.04, 0.21, -0.31, 0.01, -0.05, -0.20, -0.39, -0.40, -0.43,
    0.37, 1.31, 1.47, 0.80, 1.50, 1.24, 1.20, 0.41, 0.68, 0.60,
    1.47, 1.91, 1.75, 2.30, 1.83, 2.25, 1.51, 2.03, 1.83, 1.80,
    1.24, 1.74, 1.72, 2.25, 1.43, 2.10, 1.55, 1.99, 1.36, 1.82,
    1.10, 1.15, 1.12, 1.65, 0.92, 1.60, 0.80, 1.26, 0.80, 0.64,
    0.64, 0.65, 0.76, 1.25, 0.27, 1.04, 1.04, 0.41, 0.95, 0.20,
    0.20, 0.20, 0.67, 0.40, -0.10, 0.56, 0.24, 0.44, -0.12, -0.16,
    0.18, 0.18, -0.31, 0.16, 0.36, -0.31, 0.16, -0.33, 0.14, 0.10,
]
trace_t = np.round(np.arange(len(trace_v)) * 0.1, 1)

# smooth fit
fit_t = [0, 0.25, 0.5, 1.0, 1.5, 1.75, 2.0, 2.25, 2.5, 2.75, 3.0, 3.25, 3.5, 3.75, 4.0,
         4.25, 4.5, 4.75, 5.0, 5.25, 5.5, 5.75, 6.0, 6.5, 7.0, 7.5, 8.0, 8.5, 9.0, 9.25,
         9.5, 9.75, 9.9]
fit_v = [-0.44, -0.49, -0.50, -0.50, -0.48, -0.43, -0.33, -0.20, -0.03, 0.16, 0.40,
         0.67, 0.95, 1.21, 1.45, 1.63, 1.77, 1.84, 1.85, 1.82, 1.75, 1.63, 1.47, 1.20,
         0.92, 0.66, 0.44, 0.24, 0.08, 0.02, 0.0, 0.02, 0.04]


fig = plt.figure(figsize=(4.74, 12.48), dpi=100)

ax1 = fig.add_axes([0.1842, 0.7907, 0.8222, 0.2019])
ax2 = fig.add_axes([0.1871, 0.5409, 0.8219, 0.2023])
ax3 = fig.add_axes([0.1842, 0.2914, 0.8222, 0.2026])
ax4 = fig.add_axes([0.1821, 0.0396, 0.8222, 0.2025])


def band_plot(ax, t, m, h):
    m = np.array(m)
    h = np.array(h)
    ax.fill_between(t, m - h, m + h, color="r", alpha=0.5, linewidth=0)
    ax.plot(t, m, color="r")


band_plot(ax1, t_a, mean_a, half_a)
band_plot(ax4, t_a, mean_d, half_d)

# panel 2
mb = np.array(mean_b)
hb = np.array(half_b)
ax2.fill_between(t_b, mb - hb, mb + hb, color="g", alpha=0.5, linewidth=0)
ax2.plot(t_b, mean_b, color="g")
for t, vals in zip(t_b, obs_b):
    ax2.scatter([t] * len(vals), vals, s=5, color="k", zorder=3)
ax2.scatter(t_b, mean_b, marker="x", color="k", s=40, linewidths=1.0, zorder=4)

# panel 3
sample_sets = [
    (base_t, base_v), (base_t, base_v2), list(zip(*base_out)),
    (rise_t, rise_v), (rise_t, rise_v2), list(zip(*rise_up)),
    (peak_t, peak_v), (peak_t, peak_v2),
    (tail_low_t, tail_low_v), (tail_low_t, tail_low_v2),
    (tail_up_t, tail_up_v), (tail_up_t[:len(tail_up_v2)], tail_up_v2),
    list(zip(*late_up)),
]
for xs, ys in sample_sets:
    ax3.scatter(xs, ys, s=36, color="C0")
ax3.plot(trace_t, trace_v, color="r", linewidth=1.4)
ax3.plot(fit_t, fit_v, color="k", linewidth=1.4)

for ax in (ax1, ax2, ax3, ax4):
    ax.set_ylim(-0.8, 2.2)
    ax.set_yticks([-0.5, 0.0, 0.5, 1.0, 1.5, 2.0])
    ax.set_xticks([0, 2, 4, 6, 8, 10])
    ax.set_xlabel(XLABEL)
    ax.set_ylabel(YLABEL)

ax1.set_xlim(-0.5, 10.5)
ax2.set_xlim(-0.59, 10.59)
ax3.set_xlim(-0.5, 10.5)
ax4.set_xlim(-0.5, 10.5)

fig.savefig("out.png", dpi=100)
